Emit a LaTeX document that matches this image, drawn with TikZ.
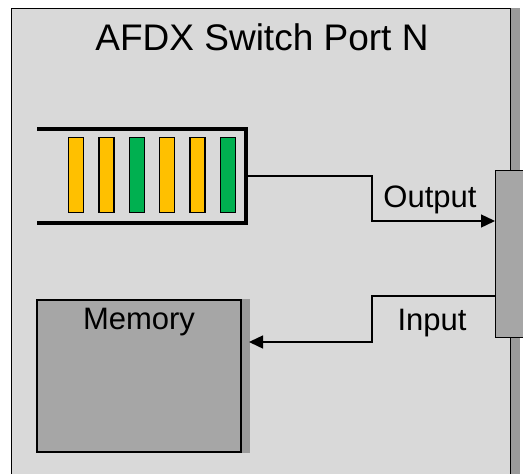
\documentclass[tikz,border=0pt]{standalone}
\usepackage{fontspec}
\setmainfont{Liberation Sans}
\usetikzlibrary{arrows.meta}
\definecolor{bgframe}{HTML}{D9D9D9}
\definecolor{boxgray}{HTML}{A6A6A6}
\definecolor{shadowgray}{HTML}{9A9A9A}
\definecolor{qorange}{HTML}{FFC000}
\definecolor{qgreen}{HTML}{00B050}
\tikzset{
  conn/.style={line width=1.4pt, black},
  arr/.style={conn, -{Triangle[length=14pt,width=13pt]}},
  qline/.style={line width=3.6pt, black},
  bar/.style={draw=black, line width=1.5pt, minimum width=15pt, minimum height=75pt, inner sep=0pt},
  graybox/.style={draw=black, line width=1.3pt, fill=boxgray, inner sep=0pt},
  shadowstrip/.style={fill=shadowgray, draw=none},
  lbl/.style={font=\fontsize{31}{31}\selectfont, inner sep=0pt},
}
\begin{document}
\begin{tikzpicture}[x=1pt,y=-1pt]
\useasboundingbox (0,0) rectangle (523,474);
\clip (0,0) rectangle (523,474);
% outer frame
\node[draw=black, line width=1.3pt, fill=bgframe, minimum width=499pt, minimum height=482pt, inner sep=0pt, anchor=north west] (frame) at (11,8) {};
\fill[shadowgray] (511,8) rectangle (519.5,490);
\node[lbl, font=\fontsize{37}{37}\selectfont] (title) at (262,37) {AFDX Switch Port N};
% port box
\node[graybox, minimum width=35pt, minimum height=167pt, anchor=north west] (port) at (495,170) {};
% queue
\coordinate (qtl) at (37,129);
\coordinate (qtr) at (246,129);
\coordinate (qbr) at (246,223);
\coordinate (qbl) at (37,223);
\draw[qline] (qtl) -- (qtr) -- (qbr) -- (qbl);
\node[bar, fill=qorange] (b1) at (76,175) {};
\node[bar, fill=qorange] (b2) at (106.5,175) {};
\node[bar, fill=qgreen]  (b3) at (137,175) {};
\node[bar, fill=qorange] (b4) at (167,175) {};
\node[bar, fill=qorange] (b5) at (197.5,175) {};
\node[bar, fill=qgreen]  (b6) at (228,175) {};
\coordinate (qout) at (247.5,176);
% memory
\node[graybox, minimum width=204pt, minimum height=152pt] (mem) at (139,376) {};
\fill[shadowgray] (mem.north east) rectangle ([xshift=8pt]mem.south east);
\node[lbl] (memlbl) at (139,322) {Memory};
\coordinate (memin) at (249,0);
% output connector
\coordinate (bend1) at (372,221);
\draw[arr] (qout) -| (bend1) -- (bend1 -| port.west);
\node[lbl] (outlbl) at (430,200) {Output};
% input connector
\coordinate (inR) at (495,296);
\coordinate (bend2) at (372,342);
\draw[arr] (inR) -| (bend2) -- (bend2 -| memin);
\node[lbl] (inlbl) at (432,323) {Input};
\end{tikzpicture}
\end{document}
